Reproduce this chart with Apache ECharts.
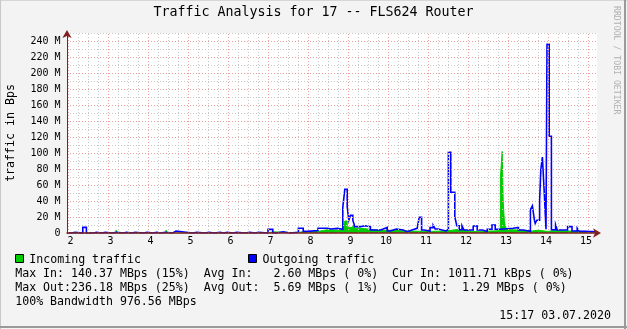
<!DOCTYPE html>
<html><head><meta charset="utf-8">
<script src="https://cdn.jsdelivr.net/npm/echarts@6/dist/echarts.min.js"></script>
<style>html,body{margin:0;padding:0;background:#f3f3f3}#c{width:627px;height:329px}</style>
</head><body><div id="c"></div>
<script>
// ---- data (hours of day, traffic in MBps), step values start at given hour ----
const titleText = 'Traffic Analysis for 17 -- FLS624 Router';
const xTickHours = [2,3,4,5,6,7,8,9,10,11,12,13,14,15];
const yTickValues = [0,20,40,60,80,100,120,140,160,180,200,220,240];
const yMinorValues = [10,30,50,70,90,110,130,150,170,190,210,230,250];

const outgoing = [
 [1.975,0],[2.08,1],[2.18,0],[2.37,7],[2.46,0],[2.64,1],[2.71,0],[2.85,1],[2.93,0],
 [3.1,1],[3.21,0],[3.39,1],[3.46,0],[3.6,1],[3.68,0],[3.88,1],[3.98,0],
 [4.12,1],[4.22,0],[4.32,1],[4.43,0],[4.62,2.5],[4.7,1],[4.95,0],
 [5.12,1],[5.22,0],[5.43,1],[5.52,0],[5.66,1],[5.8,0],[5.89,1],[5.98,0],
 [6.12,1],[6.22,0],[6.43,1],[6.54,0],[6.68,1],[6.76,0],
 [7.0,4.5],[7.12,0],[7.2,1.5],[7.38,0],[7.55,1],[7.76,6],[7.88,2],[7.98,3],
 [8.25,6],[8.48,5],[8.58,5.8],[8.73,4.6],[8.87,32],[8.92,54.6],[8.98,33],
 [9.02,16],[9.06,22],[9.12,16],[9.17,8],[9.31,9],[9.43,8],[9.56,3.7],[9.81,5],[9.88,7],[9.98,2.5],
 [10.05,5],[10.21,3.7],[10.38,1.7],[10.48,3.7],[10.6,5.8],[10.73,7],[10.78,19.6],[10.84,3.7],[10.9,2.5],
 [11.05,6.7],[11.13,9.6],[11.18,5],[11.25,2.5],[11.45,4.6],[11.51,101],[11.57,51],[11.67,20],[11.72,9],
 [11.78,4],[11.85,9],[11.9,3.7],
 [12.13,8.8],[12.23,3.7],[12.36,2],[12.48,4.6],[12.6,10],[12.68,4.6],[12.8,6],
 [13.13,7],[13.26,3.7],[13.38,2],[13.56,29],[13.61,34],[13.66,16],[13.68,12],[13.72,16],
 [13.79,40],[13.82,79],[13.86,95],[13.91,47],[13.95,4.6],[13.975,236],
 [14.03,121],[14.085,4],[14.19,10],[14.23,3.7],[14.49,8],[14.6,2.5],[14.73,6],[14.78,2],[14.93,1.5],
 [15.225,1.5]
];
const incoming = [
 [1.975,0],[2.4,1.5],[2.45,0],[3.2,3.5],[3.24,0],[4.45,3.5],[4.49,0],
 [7.0,1.5],[7.12,0.5],[7.55,0.8],[7.76,1.5],[7.88,1],[7.98,2],
 [8.25,4],[8.48,3.5],[8.73,3.7],[8.87,6],[8.92,15],[8.98,7],
 [9.12,10],[9.17,6],[9.3,4.6],[9.56,3],[9.81,3.5],
 [10.0,2.5],[10.5,2],[11.0,2.5],[11.45,4.5],[11.75,2.5],
 [12.0,2],[12.2,2.5],[12.6,3],[12.81,70],[12.855,102],[12.88,39],[12.91,14],[12.96,4],
 [13.13,3],[13.5,2.5],[13.6,3.5],[13.75,2],[14.0,3],[14.15,2.5],[14.5,2],[14.93,1],
 [15.225,1]
];
const legendRows = [
 'Max In: 140.37 MBps (15%)  Avg In:   2.60 MBps ( 0%)  Cur In: 1011.71 kBps ( 0%)',
 'Max Out:236.18 MBps (25%)  Avg Out:  5.69 MBps ( 1%)  Cur Out:  1.29 MBps ( 0%)',
 '100% Bandwidth 976.56 MBps'
];
const stampText = '15:17 03.07.2020';

// ---- grid lines ----
const minorX = [];
xTickHours.forEach(h => [0.25,0.5,0.75].forEach(o => { if (h + o < 15.225) minorX.push(h + o); }));
const minorStyle = {color:'#c8c8c8', width:1, type:[1,2]};
const majorStyle = {color:'#eaa0a0', width:1, type:[1,2]};
const gridLines = [];
yMinorValues.forEach(v => gridLines.push({yAxis:v, lineStyle:minorStyle}));
minorX.forEach(v => gridLines.push({xAxis:v, lineStyle:minorStyle}));
yTickValues.filter(v => v > 0).forEach(v => gridLines.push({yAxis:v, lineStyle:majorStyle}));
xTickHours.forEach(v => gridLines.push({xAxis:v, lineStyle:majorStyle}));

const mono = '"DejaVu Sans Mono", monospace';
const F = 11.6;
function txt(text, x, y, align, size, color, rot) {
  return {type:'text', x:x, y:y, rotation:rot||0, silent:true, z:100,
    style:{text:text, font: size + 'px ' + mono, fill: color || '#000',
      align: align, textAlign: align, verticalAlign:'middle', textVerticalAlign:'middle'}};
}

const chart = echarts.init(document.getElementById('c'), null, {renderer:'canvas'});
chart.setOption({
  animation:false,
  backgroundColor:'#f3f3f3',
  title:{text:titleText, left:'center', top:5, padding:0,
    textStyle:{fontFamily:mono, fontSize:13.3, fontWeight:'normal', color:'#000', lineHeight:16}},
  grid:{left:67, top:33, width:530, height:200, show:true, backgroundColor:'#ffffff', borderWidth:0},
  xAxis:{type:'value', min:1.975, max:15.225, z:10,
    axisLine:{show:true, onZero:false, symbol:['none','arrow'], symbolSize:[7,8], symbolOffset:[0,4],
      lineStyle:{color:'#802020', width:1.5}},
    axisTick:{show:false}, splitLine:{show:false},
    axisLabel:{customValues:xTickHours, margin:3, fontFamily:mono, fontSize:10, color:'#000',
      formatter: v => v < 10 ? '{a|' + v + '}' : '{b|' + v + '}',
      rich:{a:{fontFamily:mono, fontSize:10, color:'#000', padding:[0,0,0,5]},
            b:{fontFamily:mono, fontSize:10, color:'#000', padding:[0,4,0,0]}}}},
  yAxis:{type:'value', min:0, max:250, z:10,
    axisLine:{show:true, onZero:false, symbol:['none','arrow'], symbolSize:[7,8], symbolOffset:[0,3],
      lineStyle:{color:'#802020', width:1}},
    axisTick:{show:false}, splitLine:{show:false},
    axisLabel:{customValues:yTickValues, margin:6.5, fontFamily:mono, fontSize:10, color:'#000',
      formatter: v => v === 0 ? '0' : v + ' M'}},
  series:[
    {type:'line', name:'grid', data:[], z:1, silent:true,
      markLine:{silent:true, symbol:['none','none'], label:{show:false}, animation:false, data:gridLines}},
    {type:'line', name:'Incoming traffic', data:incoming, step:'end', symbol:'none', z:3, silent:true,
      lineStyle:{width:1, color:'#00cc00'}, itemStyle:{color:'#00cc00'},
      areaStyle:{color:'#00cc00', opacity:1}},
    {type:'line', name:'Outgoing traffic', data:outgoing, step:'end', symbol:'none', z:4, silent:true,
      lineStyle:{width:1.6, color:'#0000ff', join:'miter'}, itemStyle:{color:'#0000ff'}}
  ],
  graphic:[
    {type:'line', shape:{x1:0, y1:0.5, x2:627, y2:0.5}, style:{stroke:'#d6d6d6', lineWidth:1}, silent:true},
    {type:'line', shape:{x1:0.5, y1:0, x2:0.5, y2:329}, style:{stroke:'#c8c8c8', lineWidth:1}, silent:true},
    {type:'line', shape:{x1:625, y1:0, x2:625, y2:329}, style:{stroke:'#9a9a9a', lineWidth:2}, silent:true},
    {type:'line', shape:{x1:0, y1:327, x2:627, y2:327}, style:{stroke:'#9a9a9a', lineWidth:2}, silent:true},
    txt('traffic in Bps', 11, 133, 'center', F, '#000', Math.PI/2),
    txt('RRDTOOL / TOBI OETIKER', 616.5, 6, 'left', 8.2, '#b0b0b0', -Math.PI/2),
    {type:'rect', shape:{x:15.5, y:254.5, width:8, height:8}, style:{fill:'#00cc00', stroke:'#000', lineWidth:1}, silent:true},
    txt('Incoming traffic', 29.3, 259.5, 'left', F),
    {type:'rect', shape:{x:248.5, y:254.5, width:8, height:8}, style:{fill:'#0000ff', stroke:'#000', lineWidth:1}, silent:true},
    txt('Outgoing traffic', 262.6, 259.5, 'left', F),
    txt(legendRows[0], 15.2, 273.5, 'left', F),
    txt(legendRows[1], 15.2, 287.5, 'left', F),
    txt(legendRows[2], 15.2, 301.5, 'left', F),
    txt(stampText, 611, 315.5, 'right', F)
  ]
});
</script></body></html>
